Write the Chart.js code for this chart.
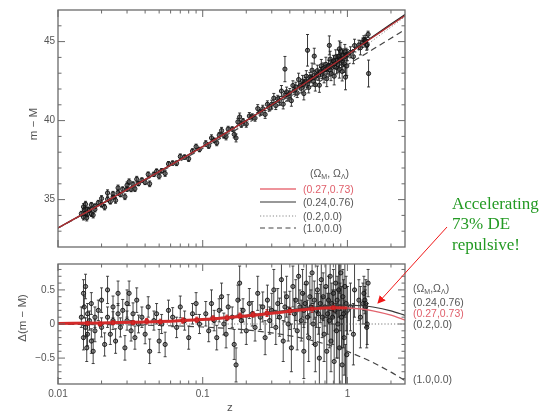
<!DOCTYPE html>
<html>
<head>
<meta charset="utf-8">
<script src="https://cdn.jsdelivr.net/npm/chart.js@4.4.1/dist/chart.umd.min.js"></script>
<style>
  body { margin: 0; background: #fff; width: 555px; height: 411px; overflow: hidden; position: relative;
         font-family: "Liberation Sans", Arial, sans-serif; }
  canvas { position: absolute; left: 0; }
  #top { top: 0; }
  #bot { top: 255px; }
  .lbl { position: absolute; font-size: 10.5px; color: #555; white-space: nowrap; height: 12px; line-height: 12px; }
  .lbl sub { font-size: 7px; vertical-align: -2px; line-height: 0; }
  .red { color: #e0606c; }
  .rot { position: absolute; font-size: 11.5px; color: #555; white-space: nowrap; transform: translate(-50%, -50%) rotate(-90deg); }
  .note { position: absolute; left: 452px; font-family: "Liberation Serif", "DejaVu Serif", serif; font-size: 17px;
          color: #239a23; white-space: nowrap; height: 20px; line-height: 20px; }
  svg { position: absolute; left: 0; top: 0; }
</style>
</head>
<body>
<canvas id="top" width="555" height="256"></canvas>
<canvas id="bot" width="555" height="156"></canvas>

<div class="rot" style="left:33px; top:124px;">m − M</div>
<div class="rot" style="left:22px; top:318px;">Δ(m − M)</div>
<div class="lbl" style="left:227px; top:401px; font-size:11.5px;">z</div>

<div class="lbl" style="left:310px; top:167px;">(Ω<sub>M</sub>, Ω<sub>Λ</sub>)</div>
<div class="lbl red" style="left:303px; top:183px;">(0.27,0.73)</div>
<div class="lbl" style="left:303px; top:196px;">(0.24,0.76)</div>
<div class="lbl" style="left:303px; top:210px;">(0.2,0.0)</div>
<div class="lbl" style="left:303px; top:222px;">(1.0,0.0)</div>

<div class="lbl" style="left:413px; top:282px;">(Ω<sub>M</sub>,Ω<sub>Λ</sub>)</div>
<div class="lbl" style="left:413px; top:296px;">(0.24,0.76)</div>
<div class="lbl red" style="left:413px; top:307px;">(0.27,0.73)</div>
<div class="lbl" style="left:413px; top:318px;">(0.2,0.0)</div>
<div class="lbl" style="left:413px; top:373px;">(1.0,0.0)</div>

<div class="note" style="top:194px;">Accelerating</div>
<div class="note" style="top:214px;">73% DE</div>
<div class="note" style="top:235px;">repulsive!</div>

<svg width="555" height="411">
  <defs>
    <marker id="head" markerWidth="8" markerHeight="8" refX="7" refY="4" orient="auto" markerUnits="userSpaceOnUse">
      <path d="M0,0 L8,4 L0,8 z" fill="#f01818"/>
    </marker>
  </defs>
  <line x1="447" y1="227" x2="378" y2="303" stroke="#f01818" stroke-width="1" marker-end="url(#head)"/>
</svg>

<script>
// model curves (Omega_M, Omega_Lambda)
const zModel   = [0.01, 0.02, 0.05, 0.1, 0.2, 0.3, 0.5, 0.7, 0.85, 1.0, 1.25, 1.5, 2.0, 2.5];
const muLCDM   = [33.21, 34.73, 36.77, 38.35, 40.00, 41.00, 42.32, 43.21, 43.73, 44.17, 44.78, 45.27, 46.05, 46.64];
const muFlat76 = [33.21, 34.73, 36.77, 38.36, 40.01, 41.02, 42.34, 43.24, 43.77, 44.21, 44.83, 45.33, 46.11, 46.71];
const muOpen   = [33.20, 34.72, 36.73, 38.29, 39.88, 40.84, 42.11, 42.98, 43.49, 43.94, 44.56, 45.08, 45.92, 46.58];
const muEdS    = [33.20, 34.71, 36.71, 38.24, 39.79, 40.71, 41.89, 42.68, 43.15, 43.53, 44.07, 44.51, 45.21, 45.76];

const dLCDM    = [0.008, 0.015, 0.036, 0.067, 0.119, 0.158, 0.209, 0.233, 0.238, 0.235, 0.220, 0.194, 0.130, 0.058];
const dFlat76  = [0.008, 0.016, 0.038, 0.072, 0.128, 0.173, 0.233, 0.264, 0.276, 0.277, 0.268, 0.249, 0.193, 0.127];
const dOpen    = [0, 0, 0, 0, 0, 0, 0, 0, 0, 0, 0, 0, 0, 0];
const dEdS     = [-0.004, -0.009, -0.022, -0.044, -0.087, -0.130, -0.213, -0.292, -0.348, -0.402, -0.487, -0.565, -0.706, -0.829];

// binned residuals (red squares)
const zBin   = [0.016, 0.0195, 0.024, 0.033, 0.041, 0.051, 0.073, 0.091, 0.118, 0.147, 0.181, 0.223, 0.278, 0.40, 0.57, 0.80];
const dBin   = [0.01, 0.00, 0.02, 0.02, 0.04, 0.03, 0.05, 0.06, 0.08, 0.09, 0.12, 0.14, 0.16, 0.19, 0.22, 0.24];
const errBin = [0.03, 0.03, 0.03, 0.03, 0.04, 0.04, 0.04, 0.04, 0.04, 0.04, 0.04, 0.04, 0.05, 0.05, 0.05, 0.06];

// supernovae: redshift, distance modulus, residual, error
const snZ = [
  0.0145, 0.015, 0.015, 0.0152, 0.0155, 0.0155, 0.0158, 0.016, 0.016, 0.0165,
  0.017, 0.017, 0.0175, 0.018, 0.018, 0.019, 0.020, 0.020, 0.021, 0.022,
  0.022, 0.023, 0.024, 0.024, 0.025, 0.026, 0.026, 0.027, 0.028, 0.029,
  0.030, 0.030, 0.031, 0.032, 0.033, 0.034, 0.035, 0.036, 0.038, 0.040,
  0.042, 0.043,
  0.046, 0.048, 0.050, 0.052, 0.055, 0.058, 0.062, 0.066, 0.070, 0.075, 0.080, 0.085, 0.090, 0.095,
  0.105, 0.11, 0.115, 0.12, 0.125, 0.13, 0.135, 0.14, 0.145, 0.15, 0.16, 0.165, 0.17, 0.175,
  0.18, 0.185, 0.19, 0.20, 0.21, 0.22, 0.23, 0.24, 0.25, 0.26, 0.27, 0.28, 0.29,
  0.30, 0.31, 0.32, 0.33, 0.34, 0.35, 0.36, 0.37, 0.37, 0.38,
  0.39, 0.40, 0.41, 0.42, 0.43, 0.44, 0.45, 0.46, 0.47, 0.48,
  0.49, 0.50, 0.50, 0.51, 0.52, 0.53, 0.53, 0.54, 0.55, 0.56,
  0.57, 0.58, 0.59, 0.59, 0.60, 0.61, 0.62, 0.63, 0.64, 0.65,
  0.66, 0.67, 0.68, 0.69, 0.70, 0.71, 0.72, 0.73, 0.74, 0.75,
  0.75, 0.76, 0.77, 0.78, 0.79, 0.80, 0.81, 0.82, 0.83, 0.84,
  0.85, 0.86, 0.87, 0.88, 0.88, 0.89, 0.90, 0.91, 0.92, 0.93,
  0.94, 0.95, 0.96, 0.97, 0.98, 0.99, 1.00,
  1.05, 1.10, 1.12, 1.20, 1.23, 1.28, 1.30, 1.32, 1.33, 1.34, 1.36, 1.37, 1.39, 1.40
];
const snMu = [
  34.11, 33.89, 34.54, 34.36, 34.11, 34.71, 33.85, 34.38, 34.08, 34.34,
  34.11, 34.66, 34.02, 34.58, 34.38, 34.80, 34.67, 35.07, 34.52, 35.02,
  35.42, 34.87, 35.16, 35.36, 34.95, 35.44, 35.74, 35.32, 35.65, 35.18,
  35.66, 35.91, 36.13, 35.65, 35.97, 35.68, 36.29, 36.01, 36.23, 36.09,
  36.60, 36.00,
  36.60, 36.79, 36.48, 36.82, 36.65, 37.26, 37.31, 37.30, 37.73, 37.69, 37.58, 38.07, 38.35, 38.17,
  38.55, 38.40, 38.90, 38.75, 38.59, 39.08, 39.37, 39.05, 38.98, 39.46, 39.46, 39.13, 38.90, 39.92,
  40.23, 39.75, 39.96, 39.78, 40.29, 40.25, 40.16, 40.76, 40.51, 40.75, 40.39, 41.03, 40.81,
  41.04, 41.42, 40.95, 41.38, 41.25, 41.87, 41.04, 43.26, 41.61, 41.82,
  41.48, 41.75, 41.26, 42.22, 41.88, 42.13, 41.74, 42.60, 42.20, 42.05,
  42.51, 42.31, 41.71, 42.46, 42.81, 44.45, 42.35, 42.10, 42.75, 42.65,
  43.19, 42.49, 42.88, 44.08, 42.27, 42.82, 43.16, 42.85, 42.24, 43.08,
  43.47, 42.96, 43.30, 42.79, 43.23, 43.56, 42.65, 43.24, 43.47, 44.76,
  43.21, 43.89, 42.98, 43.56, 43.40, 43.78, 42.81, 43.60, 44.03, 43.36,
  43.84, 43.53, 44.06, 43.24, 44.54, 43.87, 44.40, 43.78, 43.11, 44.14,
  43.92, 43.60, 44.37, 42.75, 44.18, 43.46, 44.14,
  44.32, 44.05, 44.75, 44.79, 44.61, 44.93, 45.12, 45.06, 44.98, 45.06, 44.75, 44.82, 45.46, 42.98
];
const snDelta = [
  0.10, -0.20, 0.45, 0.25, -0.05, 0.55, -0.35, 0.15, -0.15, 0.05,
  -0.25, 0.30, -0.40, 0.10, -0.10, 0.20, -0.05, 0.35, -0.30, 0.10,
  0.50, -0.15, 0.05, 0.25, -0.25, 0.15, 0.45, -0.05, 0.20, -0.35,
  0.05, 0.30, 0.45, -0.10, 0.15, -0.20, 0.35, 0.00, 0.10, -0.15,
  0.25, -0.40,
  0.05, 0.15, -0.25, 0.00, -0.30, 0.20, 0.10, -0.05, 0.25, 0.05, -0.20, 0.15, 0.30, 0.00,
  0.15, -0.10, 0.30, 0.05, -0.20, 0.20, 0.40, 0.00, -0.15, 0.25, 0.10, -0.30, -0.60, 0.35,
  0.60, 0.05, 0.20, -0.10, 0.30, 0.15, -0.05, 0.45, 0.10, 0.25, -0.20, 0.35, 0.05,
  0.20, 0.50, -0.05, 0.30, 0.10, 0.65, -0.25, 1.90, 0.25, 0.40,
  0.00, 0.20, -0.35, 0.55, 0.15, 0.35, -0.10, 0.70, 0.25, 0.05,
  0.45, 0.20, -0.40, 0.30, 0.60, 2.20, 0.10, -0.20, 0.40, 0.25,
  0.75, 0.00, 0.35, 1.55, -0.30, 0.20, 0.50, 0.15, -0.50, 0.30,
  0.65, 0.10, 0.40, -0.15, 0.25, 0.55, -0.40, 0.15, 0.35, 1.60,
  0.05, 0.70, -0.25, 0.30, 0.10, 0.45, -0.55, 0.20, 0.60, -0.10,
  0.35, 0.00, 0.50, -0.35, 0.95, 0.25, 0.75, 0.10, -0.60, 0.40,
  0.15, -0.20, 0.55, -1.10, 0.30, -0.45, 0.20,
  0.25, -0.15, 0.50, 0.35, 0.10, 0.30, 0.45, 0.35, 0.25, 0.30, -0.05, 0.00, 0.60, -1.90
];
const snErr = [
  0.15, 0.18, 0.20, 0.16, 0.14, 0.18, 0.20, 0.15, 0.17, 0.14,
  0.18, 0.16, 0.18, 0.15, 0.16, 0.15, 0.14, 0.18, 0.17, 0.15,
  0.20, 0.15, 0.13, 0.16, 0.18, 0.15, 0.18, 0.14, 0.16, 0.18,
  0.14, 0.20, 0.18, 0.15, 0.16, 0.17, 0.18, 0.13, 0.15, 0.14,
  0.15, 0.18,
  0.14, 0.15, 0.17, 0.14, 0.18, 0.15, 0.14, 0.15, 0.16, 0.14, 0.17, 0.15, 0.16, 0.14,
  0.18, 0.16, 0.20, 0.15, 0.18, 0.17, 0.20, 0.16, 0.20, 0.18, 0.15, 0.22, 0.25, 0.22,
  0.25, 0.18, 0.17, 0.20, 0.22, 0.18, 0.20, 0.25, 0.18, 0.22, 0.25, 0.22, 0.20,
  0.25, 0.30, 0.25, 0.22, 0.28, 0.35, 0.30, 0.80, 0.22, 0.30,
  0.25, 0.28, 0.35, 0.30, 0.22, 0.30, 0.28, 0.40, 0.25, 0.30,
  0.35, 0.25, 0.40, 0.28, 0.35, 1.00, 0.25, 0.35, 0.30, 0.25,
  0.45, 0.30, 0.28, 0.50, 0.40, 0.25, 0.35, 0.30, 0.45, 0.28,
  0.40, 0.30, 0.35, 0.40, 0.28, 0.45, 0.50, 0.30, 0.35, 0.60,
  0.40, 0.50, 0.45, 0.30, 0.40, 0.35, 0.55, 0.30, 0.45, 0.40,
  0.35, 0.50, 0.40, 0.55, 0.50, 0.35, 0.55, 0.45, 0.60, 0.40,
  0.50, 0.55, 0.45, 0.80, 0.40, 0.60, 0.35,
  0.35, 0.45, 0.40, 0.30, 0.45, 0.30, 0.25, 0.20, 0.25, 0.35, 0.30, 0.30, 0.20, 0.85
];

// axis ticks
const xMajor = [0.01, 0.1, 1];
const xMinor = [0.02, 0.03, 0.04, 0.05, 0.06, 0.07, 0.08, 0.09, 0.2, 0.3, 0.4, 0.5, 0.6, 0.7, 0.8, 0.9, 2];
const yTopMajor = [35, 40, 45];
const yTopMinor = [33, 34, 36, 37, 38, 39, 41, 42, 43, 44, 46];
const yBotMajor = [-0.5, 0, 0.5];
const yBotMinor = [-0.8, -0.7, -0.6, -0.4, -0.3, -0.2, -0.1, 0.1, 0.2, 0.3, 0.4, 0.6, 0.7, 0.8];

const FONT = "'Liberation Sans', Arial, sans-serif";

function pts(xs, ys) {
    return xs.map((x, i) => ({x: x, y: ys[i]}));
}

// vertical error bars, drawn under the points
const errorBars = {
    id: 'errorBars',
    beforeDatasetsDraw(chart) {
        const {ctx, chartArea: a, scales: {x, y}} = chart;
        ctx.save();
        ctx.beginPath();
        ctx.rect(a.left, a.top, a.right - a.left, a.bottom - a.top);
        ctx.clip();
        chart.data.datasets.forEach(ds => {
            if (!ds.errors) return;
            ctx.strokeStyle = ds.errorColor;
            ctx.lineWidth = 1;
            ds.data.forEach((p, i) => {
                const px = x.getPixelForValue(p.x);
                const y1 = y.getPixelForValue(p.y - ds.errors[i]);
                const y2 = y.getPixelForValue(p.y + ds.errors[i]);
                ctx.beginPath();
                ctx.moveTo(px, y1); ctx.lineTo(px, y2);
                ctx.moveTo(px - 1.5, y1); ctx.lineTo(px + 1.5, y1);
                ctx.moveTo(px - 1.5, y2); ctx.lineTo(px + 1.5, y2);
                ctx.stroke();
            });
        });
        ctx.restore();
    }
};

// box and inward ticks on all four sides
const frame = {
    id: 'frame',
    afterDatasetsDraw(chart, args, opts) {
        const {ctx, chartArea: a, scales: {x, y}} = chart;
        ctx.save();
        ctx.strokeStyle = '#6a6a6a';
        ctx.lineWidth = 1;
        ctx.beginPath();
        const xt = (vals, len) => vals.forEach(v => {
            const px = x.getPixelForValue(v);
            ctx.moveTo(px, a.top); ctx.lineTo(px, a.top + len);
            ctx.moveTo(px, a.bottom); ctx.lineTo(px, a.bottom - len);
        });
        const yt = (vals, len) => vals.forEach(v => {
            const py = y.getPixelForValue(v);
            ctx.moveTo(a.left, py); ctx.lineTo(a.left + len, py);
            ctx.moveTo(a.right, py); ctx.lineTo(a.right - len, py);
        });
        xt(xMajor, 7); xt(xMinor, 3.5);
        yt(opts.yMajor, 7); yt(opts.yMinor, 3.5);
        ctx.stroke();
        ctx.lineWidth = 1.3;
        ctx.strokeRect(a.left, a.top, a.right - a.left, a.bottom - a.top);
        ctx.restore();
    }
};

// legend line samples in the upper panel
const legendSamples = {
    id: 'legendSamples',
    afterDraw(chart) {
        const ctx = chart.ctx;
        const rows = [
            {y: 189, color: '#e8707a', dash: [], w: 1.3},
            {y: 202, color: '#333', dash: [], w: 1.1},
            {y: 216, color: '#888', dash: [1.2, 2], w: 1},
            {y: 228, color: '#444', dash: [5, 3.5], w: 1.1}
        ];
        ctx.save();
        rows.forEach(r => {
            ctx.strokeStyle = r.color;
            ctx.lineWidth = r.w;
            ctx.setLineDash(r.dash);
            ctx.beginPath();
            ctx.moveTo(260, r.y); ctx.lineTo(296, r.y);
            ctx.stroke();
        });
        ctx.restore();
    }
};

function lineSet(data, color, width, dash, extra) {
    return Object.assign({
        type: 'line', data: data, borderColor: color, borderWidth: width, borderDash: dash,
        pointRadius: 0, fill: false, cubicInterpolationMode: 'monotone', order: 1
    }, extra || {});
}

function scalesFor(yMin, yMax, yMajor, yLabel, showX) {
    return {
        x: {
            type: 'logarithmic', min: 0.01, max: 2.5,
            afterBuildTicks: s => { s.ticks = xMajor.map(v => ({value: v})); },
            ticks: {display: showX, color: '#555', font: {family: FONT, size: 10}, padding: 4,
                    autoSkip: false, maxRotation: 0, callback: v => String(v)},
            grid: {display: false, drawTicks: false},
            border: {display: false},
            afterFit: s => { s.height = showX ? 27 : 0; }
        },
        y: {
            min: yMin, max: yMax,
            afterBuildTicks: s => { s.ticks = yMajor.map(v => ({value: v})); },
            ticks: {color: '#555', font: {family: FONT, size: 10}, padding: 3, callback: yLabel},
            grid: {display: false, drawTicks: false},
            border: {display: false},
            afterFit: s => { s.width = 58; }
        }
    };
}

new Chart(document.getElementById('top'), {
    type: 'scatter',
    data: {
        datasets: [
            lineSet(pts(zModel, muOpen), '#888', 1, [1.2, 2]),
            lineSet(pts(zModel, muEdS), '#444', 1.2, [6, 4]),
            lineSet(pts(zModel, muFlat76), '#222', 1.2, []),
            lineSet(pts(zModel, muLCDM), '#b02c30', 1.3, [], {order: 0}),
            {
                data: pts(snZ, snMu), errors: snErr, errorColor: 'rgba(35,35,35,0.9)',
                pointRadius: 2.1, pointBorderWidth: 0.9, borderColor: '#111',
                backgroundColor: 'rgba(40,40,40,0.55)', order: 2
            }
        ]
    },
    options: {
        responsive: false, animation: false,
        layout: {padding: {left: 0, right: 150, top: 10, bottom: 1}},
        plugins: {legend: {display: false}, tooltip: {enabled: false},
                  frame: {yMajor: yTopMajor, yMinor: yTopMinor}},
        scales: scalesFor(32, 47, yTopMajor, v => String(v), false)
    },
    plugins: [errorBars, frame, legendSamples]
});

new Chart(document.getElementById('bot'), {
    type: 'scatter',
    data: {
        datasets: [
            lineSet(pts(zModel, dOpen), '#777', 1, [1.2, 2]),
            lineSet(pts(zModel, dEdS), '#444', 1.2, [6, 4]),
            lineSet(pts(zModel, dFlat76), '#3a3a3a', 1.2, []),
            lineSet(pts(zModel, dLCDM), '#d42a2a', 1.3, [], {
                order: 0,
                segment: {
                    borderWidth: c => c.p0.parsed.x < 1 ? 3 : 1.3,
                    borderColor: c => c.p0.parsed.x < 1 ? '#d42a2a' : '#e2646e'
                }
            }),
            {
                data: pts(zBin, dBin), errors: errBin, errorColor: '#d42a2a',
                pointStyle: 'rect', pointRadius: 2.4, borderColor: '#c81e1e',
                backgroundColor: '#d42a2a', order: -1
            },
            {
                data: pts(snZ, snDelta), errors: snErr, errorColor: 'rgba(40,40,40,0.85)',
                pointRadius: 2.1, pointBorderWidth: 0.9, borderColor: '#111',
                backgroundColor: 'rgba(50,50,50,0.45)', order: 2
            }
        ]
    },
    options: {
        responsive: false, animation: false,
        layout: {padding: {left: 0, right: 150, top: 0, bottom: 0}},
        plugins: {legend: {display: false}, tooltip: {enabled: false},
                  frame: {yMajor: yBotMajor, yMinor: yBotMinor}},
        scales: scalesFor(-0.88, 0.88, yBotMajor, v => v < 0 ? '\u2212' + Math.abs(v) : String(v), true)
    },
    plugins: [errorBars, frame]
});
</script>
</body>
</html>
